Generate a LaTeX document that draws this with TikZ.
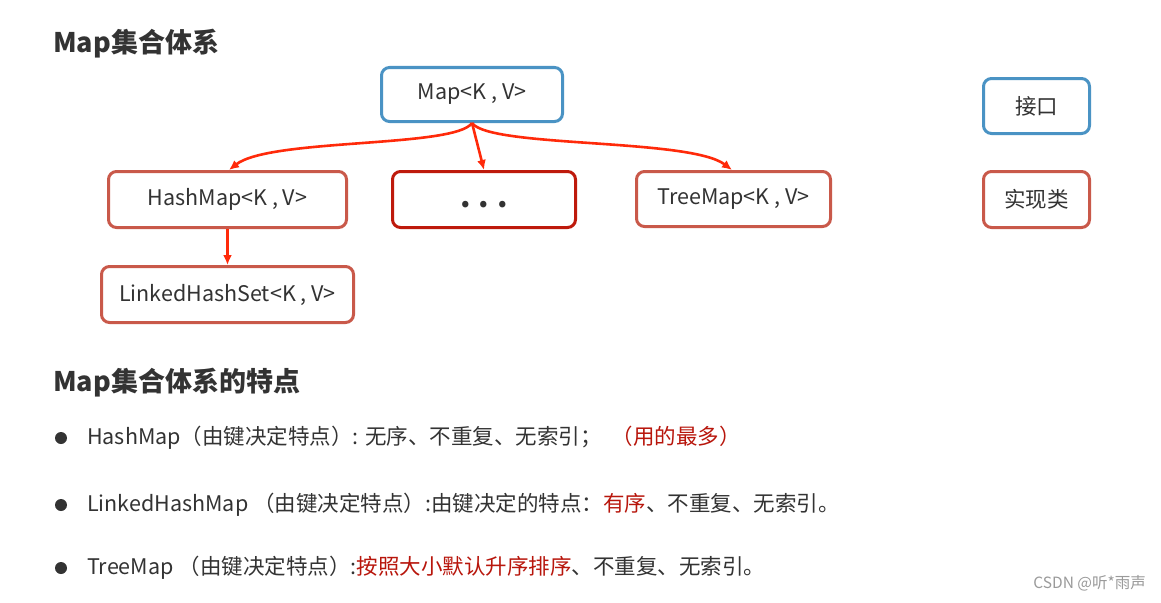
\documentclass[tikz,border=0pt]{standalone}
\usepackage{fontspec}
\setmainfont{Noto Sans CJK SC}
\usetikzlibrary{arrows.meta}
\definecolor{txt}{HTML}{333333}
\definecolor{iblue}{HTML}{4A93C4}
\definecolor{cred}{HTML}{C9594A}
\definecolor{dred}{HTML}{BE1A0C}
\definecolor{arr}{HTML}{FF2A0A}
\definecolor{hl}{HTML}{B8160C}
\definecolor{wm}{HTML}{9A9A9A}
\tikzset{
  box/.style={draw, rounded corners=8pt, line width=3pt, fill=white, inner sep=0pt,
    text=txt, font=\fontsize{21.5}{24}\selectfont},
  iface/.style={box, draw=iblue},
  impl/.style={box, draw=cred},
  dotsbox/.style={box, draw=dred},
  conn/.style={draw=arr, line width=2.6pt, -{Latex[length=10pt,width=9pt]}},
  title/.style={anchor=west, inner sep=0pt, text=txt, font=\fontsize{27}{32}\selectfont\bfseries},
  line/.style={anchor=west, inner sep=0pt, text=txt, font=\fontsize{21.5}{26}\selectfont},
  bullet/.style={circle, fill=txt, inner sep=0pt, minimum size=12pt}
}
\begin{document}
\begin{tikzpicture}[x=1pt,y=-1pt]
\useasboundingbox (0,0) rectangle (1161,602);
\fill[white] (0,0) rectangle (1161,602);

\node[title] (t1) at (53,44) {Map集合体系};

\node[iface, minimum width=181pt, minimum height=54pt] (m) at (472,94.5) {Map<K , V>};
\node[impl, minimum width=238pt, minimum height=56pt] (hm) at (227.5,199.5) {HashMap<K , V>};
\node[dotsbox, minimum width=183pt, minimum height=56pt, font=\fontsize{30}{30}\bfseries\selectfont] (d) at (484,199.5) {\smash{\raisebox{-8pt}{.\hspace{8pt}.\hspace{8pt}.}}};
\node[impl, minimum width=194pt, minimum height=55pt] (tm) at (733.5,199) {TreeMap<K , V>};
\node[impl, minimum width=252pt, minimum height=56pt] (lhs) at (227.5,294.5) {LinkedHashSet<K , V>};
\node[iface, minimum width=106pt, minimum height=55pt] (k1) at (1036.5,106) {接口};
\node[impl, minimum width=106pt, minimum height=56pt] (k2) at (1036.5,199.5) {实现类};

\draw[conn] (m.south) .. controls (455,148) and (270,138) .. ([xshift=1.5pt]hm.north);
\draw[conn] (m.south) -- (d.north);
\draw[conn] (m.south) .. controls (490,148) and (690,138) .. ([xshift=-1.5pt]tm.north);
\draw[conn] (hm.south) -- (lhs.north);

\node[title] (t2) at (53,383) {Map集合体系的特点};

\node[bullet] (b1) at (61,438) {};
\node[bullet] (b2) at (61,505) {};
\node[bullet] (b3) at (61,568) {};

\node[line] (l1) at (87,438) {HashMap（由键决定特点）: 无序、不重复、无索引；\hspace{10pt}{\color{hl}（用的最多）}};
\node[line] (l2) at (87,505) {LinkedHashMap （由键决定特点）:由键决定的特点：{\color{hl}有序}、不重复、无索引。};
\node[line] (l3) at (87,568) {TreeMap （由键决定特点）:{\color{hl}按照大小默认升序排序}、不重复、无索引。};

\node[anchor=east, inner sep=0pt, text=wm, font=\fontsize{15.5}{18}\selectfont] (wmk) at (1146,583) {CSDN @听*雨声};
\end{tikzpicture}
\end{document}
